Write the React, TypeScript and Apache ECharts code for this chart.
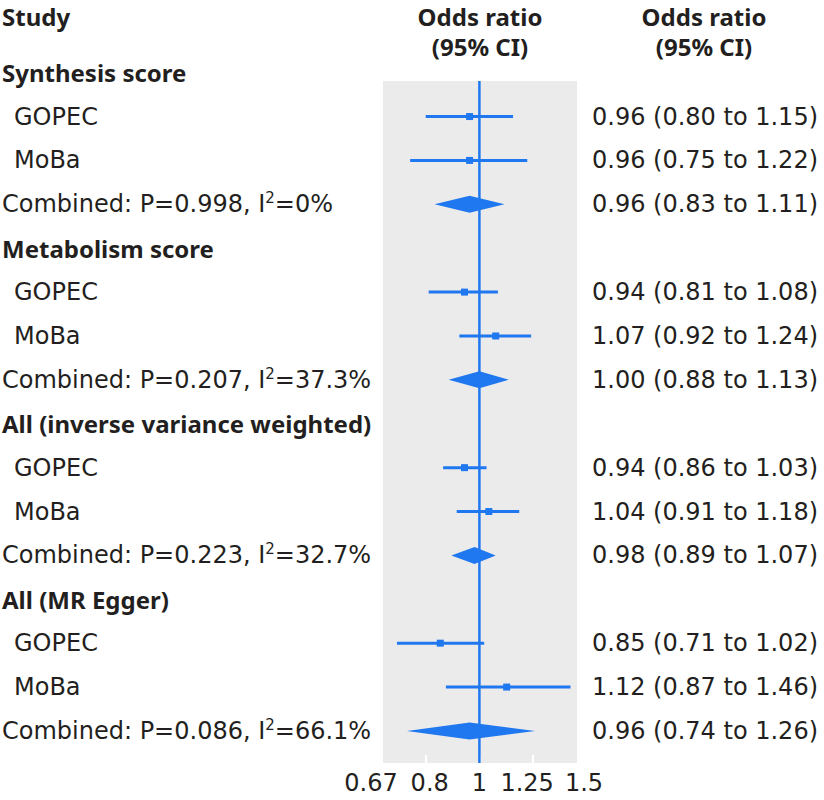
import { useEffect, useRef } from 'react';
import * as echarts from 'echarts';

// ---- Data ----
const groupNames = ['Synthesis score', 'Metabolism score', 'All (inverse variance weighted)', 'All (MR Egger)'];
const studyNames = ['GOPEC', 'MoBa'];
const pValues = ['0.998', '0.207', '0.223', '0.086'];
const i2Values = ['0%', '37.3%', '32.7%', '66.1%'];
// per group: [GOPEC, MoBa, Combined]
const oddsRatios = [
  [0.96, 0.96, 0.96],
  [0.94, 1.07, 1.0],
  [0.94, 1.04, 0.98],
  [0.85, 1.12, 0.96],
];
const lowerCI = [
  [0.8, 0.75, 0.83],
  [0.81, 0.92, 0.88],
  [0.86, 0.91, 0.89],
  [0.71, 0.87, 0.74],
];
const upperCI = [
  [1.15, 1.22, 1.11],
  [1.08, 1.24, 1.13],
  [1.03, 1.18, 1.07],
  [1.02, 1.46, 1.26],
];
const axisTickValues = [0.67, 0.8, 1, 1.25, 1.5];
const axisTickLabels = ['0.67', '0.8', '1', '1.25', '1.5'];

type Kind = 'header' | 'study' | 'combined';
type Row = { row: number; kind: Kind; g: number; k: number };

const rows: Row[] = [];
groupNames.forEach((_, g) => {
  rows.push({ row: g * 4, kind: 'header', g, k: -1 });
  studyNames.forEach((_, k) => rows.push({ row: g * 4 + 1 + k, kind: 'study', g, k }));
  rows.push({ row: g * 4 + 3, kind: 'combined', g, k: 2 });
});

const BOLD_FONT = "'Noto Sans', 'Open Sans', sans-serif";
const REG_FONT = "'DejaVu Sans', 'Noto Sans', sans-serif";
const BLUE = '#1f78f0';
const GREY = '#ebebeb';
const TEXT = '#231f20';
const FS = 24;

const fmt = (v: number) => v.toFixed(2);

export default function App() {
  const ref = useRef<HTMLDivElement>(null);
  useEffect(() => {
    const chart = echarts.init(ref.current!, null, { renderer: 'svg' });
    const ln = Math.log;
    const yMin = 0.19;
    const yMax = 15.73;

    const data = rows.map((r, i) => {
      if (r.kind === 'header') return [0, r.row, 0, 0, i];
      return [ln(oddsRatios[r.g][r.k]), r.row, ln(lowerCI[r.g][r.k]), ln(upperCI[r.g][r.k]), i];
    });

    const labelShift: Record<string, string> = { '0.67': 'a', '0.8': 'b', '1': 'c', '1.25': 'd', '1.5': 'e' };
    const baseLabel = { fontSize: FS, fontFamily: REG_FONT, color: TEXT };
    const regText = { fontSize: FS, fontFamily: REG_FONT, fontWeight: 'normal', fill: TEXT };
    const boldText = { fontSize: FS, fontFamily: BOLD_FONT, fontWeight: 'bold', fill: TEXT };

    const option: any = {
      animation: false,
      grid: {
        left: 383,
        right: 247,
        top: 81,
        bottom: 37,
        show: true,
        backgroundColor: GREY,
        borderWidth: 0,
      },
      xAxis: {
        type: 'value',
        min: ln(axisTickValues[0]),
        max: ln(axisTickValues[axisTickValues.length - 1]),
        axisLine: { show: false },
        splitLine: { show: false },
        axisTick: {
          show: true,
          inside: true,
          length: 8,
          lineStyle: { color: '#ffffff', width: 2 },
          customValues: axisTickValues.slice(1, -1).map(ln),
        },
        axisLabel: {
          ...baseLabel,
          margin: 8,
          customValues: axisTickValues.map(ln),
          formatter: (v: number) => {
            let best = 0;
            axisTickValues.forEach((t, i) => {
              if (Math.abs(ln(t) - v) < Math.abs(ln(axisTickValues[best]) - v)) best = i;
            });
            const lab = axisTickLabels[best];
            return `{${labelShift[lab]}|${lab}}`;
          },
          rich: {
            a: { ...baseLabel, padding: [0, 24, 0, 0] },
            b: { ...baseLabel, padding: [0, 0, 0, 8] },
            c: { ...baseLabel },
            d: { ...baseLabel, padding: [0, 12, 0, 0] },
            e: { ...baseLabel, padding: [0, 0, 0, 14] },
          },
        },
      },
      yAxis: {
        type: 'value',
        inverse: true,
        min: yMin,
        max: yMax,
        show: false,
      },
      graphic: [
        {
          type: 'text',
          x: 2,
          y: 16,
          style: { ...boldText, text: 'Study', verticalAlign: 'middle' },
        },
        {
          type: 'text',
          x: 480,
          y: 1,
          style: { ...boldText, text: 'Odds ratio\n(95% CI)', align: 'center', lineHeight: 30 },
        },
        {
          type: 'text',
          x: 704,
          y: 1,
          style: { ...boldText, text: 'Odds ratio\n(95% CI)', align: 'center', lineHeight: 30 },
        },
      ],
      series: [
        {
          type: 'line',
          data: [
            [0, yMin],
            [0, yMax],
          ],
          symbol: 'none',
          silent: true,
          lineStyle: { color: BLUE, width: 2.5 },
          z: 3,
        },
        {
          type: 'custom',
          clip: false,
          silent: true,
          z: 4,
          encode: { x: [0, 2, 3], y: 1 },
          data,
          renderItem: (_params: any, api: any) => {
            const r = rows[api.value(4)];
            const y = api.coord([0, r.row])[1];
            const children: any[] = [];
            if (r.kind === 'header') {
              children.push({
                type: 'text',
                style: { ...boldText, x: 2, y, text: groupNames[r.g], verticalAlign: 'middle' },
              });
            } else if (r.kind === 'study') {
              children.push({
                type: 'text',
                style: { ...regText, x: 14, y, text: studyNames[r.k], verticalAlign: 'middle' },
              });
            } else {
              children.push({
                type: 'text',
                style: {
                  ...regText,
                  x: 2,
                  y,
                  text: `{n|Combined: P=${pValues[r.g]}, I}{sup|2}{n|=${i2Values[r.g]}}`,
                  verticalAlign: 'middle',
                  rich: {
                    n: { ...regText },
                    sup: { fontSize: 15, fontFamily: REG_FONT, fill: TEXT, padding: [0, 0, 12, 0] },
                  },
                },
              });
            }
            if (r.kind !== 'header') {
              const orv = oddsRatios[r.g][r.k];
              const lo = lowerCI[r.g][r.k];
              const hi = upperCI[r.g][r.k];
              const pc = api.coord([api.value(0), r.row]);
              const pl = api.coord([api.value(2), r.row]);
              const ph = api.coord([api.value(3), r.row]);
              if (r.kind === 'study') {
                children.push({
                  type: 'line',
                  shape: { x1: pl[0], y1: y, x2: ph[0], y2: y },
                  style: { stroke: BLUE, lineWidth: 3 },
                });
                children.push({
                  type: 'rect',
                  shape: { x: pc[0] - 3.5, y: y - 3.5, width: 7, height: 7 },
                  style: { fill: BLUE },
                });
              } else {
                const h = 8.5;
                children.push({
                  type: 'polygon',
                  shape: {
                    points: [
                      [pl[0], y],
                      [pc[0], y - h],
                      [ph[0], y],
                      [pc[0], y + h],
                    ],
                  },
                  style: { fill: BLUE },
                });
              }
              children.push({
                type: 'text',
                style: {
                  ...regText,
                  x: 592,
                  y,
                  text: `${fmt(orv)} (${fmt(lo)} to ${fmt(hi)})`,
                  verticalAlign: 'middle',
                },
              });
            }
            return { type: 'group', children };
          },
        },
      ],
    };
    chart.setOption(option);
    return () => chart.dispose();
  }, []);
  return <div ref={ref} style={{ position: 'absolute', left: 0, top: 0, width: 824, height: 800 }} />;
}
